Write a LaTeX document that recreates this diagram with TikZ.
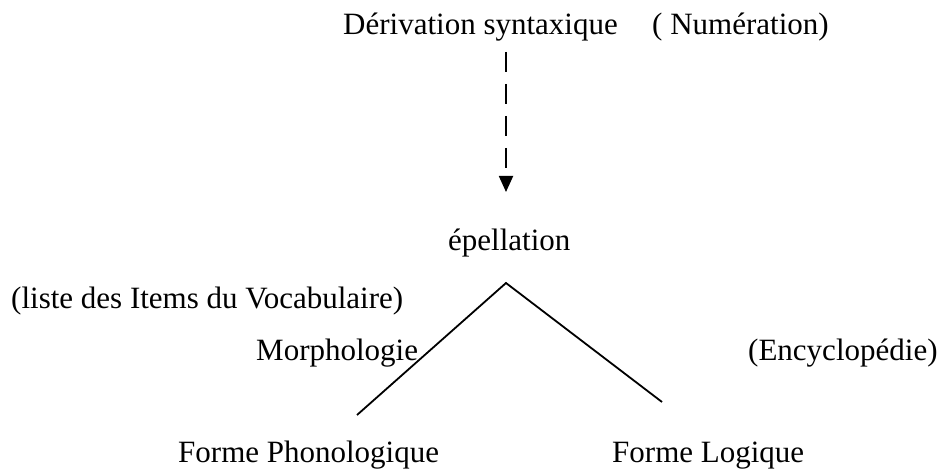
\documentclass[tikz,border=0pt]{standalone}
\usepackage{fontspec}
\setmainfont{Liberation Serif}
\usetikzlibrary{arrows.meta}
\begin{document}
\begin{tikzpicture}[x=1pt,y=-1pt,
  lbl/.style={anchor=base west,inner sep=0pt,font=\fontsize{31}{36}\selectfont},
  branch/.style={line width=1.8pt},
  dashline/.style={line width=1.8pt,dash pattern=on 20pt off 12pt,-{Triangle[length=16pt,width=14pt]}}]
\useasboundingbox[fill=white] (0,0) rectangle (947,473);
\node[lbl] (deriv) at (343,35) {Dérivation syntaxique};
\node[lbl] (numer) at (652,35) {( Numération)};
\node[lbl] (epel) at (448,250) {épellation};
\node[lbl] (liste) at (11,308) {(liste des Items du Vocabulaire)};
\node[lbl] (morph) at (256,360) {Morphologie};
\node[lbl] (ency) at (748,360) {(Encyclopédie)};
\node[lbl] (fp) at (178,462) {Forme Phonologique};
\node[lbl] (fl) at (612,462) {Forme Logique};
\coordinate (d1) at (506,52);
\coordinate (d2) at (506,192);
\coordinate (apex) at (506,283);
\coordinate (lend) at (357,415);
\coordinate (rend) at (662,402);
\draw[dashline] (d1) -- (d2);
\draw[branch] (lend) -- (apex) -- (rend);
\end{tikzpicture}
\end{document}
